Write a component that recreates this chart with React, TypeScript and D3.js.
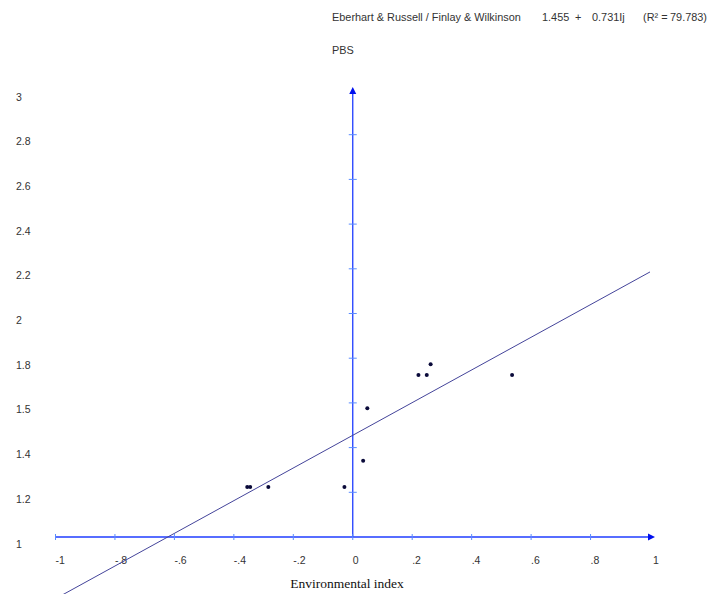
import React from "react";
import * as d3 from "d3";

const xTicks = [-1, -0.8, -0.6, -0.4, -0.2, 0, 0.2, 0.4, 0.6, 0.8, 1];
const xTickLabels = ["-1", "-.8", "-.6", "-.4", "-.2", "0", ".2", ".4", ".6", ".8", "1"];
const yTicks = [1, 1.2, 1.4, 1.6, 1.8, 2, 2.2, 2.4, 2.6, 2.8, 3];
const yTickLabels = ["1", "1.2", "1.4", "1.5", "1.8", "2", "2.2", "2.4", "2.6", "2.8", "3"];

const envIndex = [-0.355, -0.345, -0.284, -0.028, 0.035, 0.049, 0.221, 0.249, 0.262, 0.536];
const pbsValue = [1.224, 1.224, 1.224, 1.224, 1.341, 1.576, 1.725, 1.725, 1.773, 1.725];

const intercept = 1.455;
const slope = 0.731;
const lineX = [-1.1, 1];

export default function App() {
  const W = 709, H = 594;
  const x = d3.scaleLinear().domain([-1, 1]).range([55.5, 650]);
  const y = d3.scaleLinear().domain([1, 3]).range([537, 90]);
  const x0 = x(0), y0 = y(1);
  const axisColor = "#1f3cff";
  const tickColor = "#5a8cff";
  const textColor = "#333";
  const font = "'Liberation Sans', Arial, sans-serif";
  const line = d3.line<number>().x((d) => x(d)).y((d) => y(intercept + slope * d));

  return (
    <div style={{ position: "absolute", left: 0, top: 0 }}>
      <svg width={W} height={H} style={{ display: "block", background: "#fff" }}>
        <g fontFamily={font} fontSize={10.9} fill={textColor}>
          <text x={332} y={21}>Eberhart &amp; Russell / Finlay &amp; Wilkinson</text>
          <text x={542} y={21}>1.455</text>
          <text x={575} y={21}>+</text>
          <text x={592} y={21}>0.731Ij</text>
          <text x={643} y={21}>(R² =</text>
          <text x={707} y={21} textAnchor="end">79.783)</text>
          <text x={332} y={54}>PBS</text>
        </g>
        {/* axes */}
        <line x1={x(-1)} x2={x(1)} y1={y0} y2={y0} stroke={axisColor} strokeWidth={1.3} />
        <line x1={x0} x2={x0} y1={y0} y2={y(3)} stroke={axisColor} strokeWidth={1.3} />
        <path d={`M${x(1) + 5},${y0} L${x(1) - 2},${y0 - 3.5} L${x(1) - 2},${y0 + 3.5} Z`} fill="#0010ee" />
        <path d={`M${x0},${y(3) - 3} L${x0 - 3.5},${y(3) + 4} L${x0 + 3.5},${y(3) + 4} Z`} fill="#0010ee" />
        {xTicks.slice(0, -1).map((t) => (
          <line key={"xt" + t} x1={x(t)} x2={x(t)} y1={y0 - 3} y2={y0 + 3} stroke={tickColor} strokeWidth={1} />
        ))}
        {yTicks.slice(1, -1).map((t) => (
          <line key={"yt" + t} x1={x0 - 4} x2={x0 + 4} y1={y(t)} y2={y(t)} stroke={tickColor} strokeWidth={1} />
        ))}
        <g fontFamily={font} fontSize={10.5} fill={textColor}>
          {xTicks.map((t, i) => (
            <text key={"xl" + i} x={x(t) + (i === xTicks.length - 1 ? 3 : 0)} y={564}>{xTickLabels[i]}</text>
          ))}
          {yTicks.map((t, i) => (
            <text key={"yl" + i} x={16} y={y(t) + 10.5}>{yTickLabels[i]}</text>
          ))}
        </g>
        <text x={347} y={588} textAnchor="middle" fontFamily="'Liberation Serif', 'Times New Roman', serif" fontSize={13.5} fill="#111">
          Environmental index
        </text>
        {/* regression line */}
        <path d={line(lineX) || ""} fill="none" stroke="#44449a" strokeWidth={1} />
        {/* points */}
        {envIndex.map((v, i) => (
          <circle key={"p" + i} cx={x(v)} cy={y(pbsValue[i])} r={2} fill="#0a0a3a" />
        ))}
      </svg>
    </div>
  );
}
